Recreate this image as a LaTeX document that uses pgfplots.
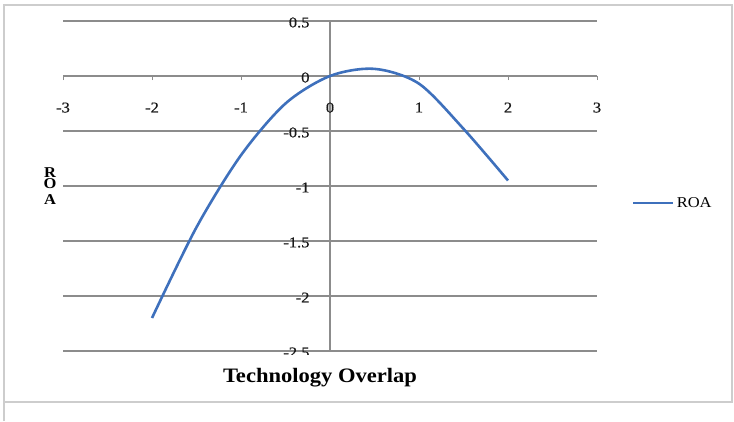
\documentclass[border=0pt]{standalone}
\usepackage{fontspec}
\setmainfont[FakeStretch=1.1]{Liberation Serif}
\newfontfamily\tickfont[FakeStretch=1.1,FakeBold=0.5]{Liberation Serif}
\usepackage{pgfplots}
\pgfplotsset{compat=1.18}
\definecolor{roablue}{RGB}{62,112,188}
\definecolor{gridgray}{RGB}{140,140,140}
\definecolor{framegray}{RGB}{205,205,205}

\begin{document}
\begin{tikzpicture}[x=1pt,y=1pt]
\useasboundingbox (0,0) rectangle (734,421);
% chart area frame
\draw[framegray, line width=1.2pt] (4,19) rectangle (732,416);
\draw[framegray, line width=1.2pt] (4,0) -- (4,19);
\begin{axis}[
  at={(63pt,70pt)}, anchor=south west,
  scale only axis, width=534pt, height=330pt,
  xmin=-3, xmax=3, ymin=-2.5, ymax=0.5,
  axis x line=middle, axis y line=middle,
  axis line style={-, gridgray, line width=1.3pt},
  ymajorgrids, grid style={gridgray, line width=1.3pt},
  xtick={-3,-2,-1,0,1,2,3},
  xticklabels={-3,-2,-1,0,1,2,3},
  ytick={-2.5,-2,-1.5,-1,-0.5,0,0.5},
  yticklabels={-2.5,-2,-1.5,-1,-0.5,0,0.5},
  hide obscured x ticks=false, hide obscured y ticks=false,
  x tick style={gridgray, line width=1pt},
  y tick style={draw=none},
  xtick align=outside, major tick length=4pt,
  ticklabel style={font=\tickfont\fontsize{15}{15}\selectfont, text=black!90},
  xticklabel style={yshift=-19pt},
  yticklabel style={xshift=-15pt, yshift=-1.5pt},
  clip=false,
  legend style={at={(axis description cs:1.0655,0.4485)}, anchor=west,
    draw=none, fill=none, inner sep=0pt,
    font=\fontsize{15}{15}\selectfont, legend cell align=left},
  legend image code/.code={\draw[#1] (0pt,0pt) -- (40pt,0pt);},
]
\addplot[roablue, line width=2.6pt, smooth] coordinates {
  (-2,-2.2) (-1.5,-1.375) (-1,-0.72) (-0.5,-0.25) (0,0)
  (0.5,0.065) (1,-0.07) (1.5,-0.48) (2,-0.95)
};
\addlegendentry{ROA}
\end{axis}
% lower part of the -2.5 label is cut off by the plot area
\fill[white] (266,52) rectangle (322,66);
\node[font=\fontsize{20.5}{20.5}\selectfont\bfseries] at (320,43) {Technology Overlap};
\node[font=\fontsize{15}{15}\selectfont\bfseries] at (50,248) {R};
\node[font=\fontsize{15}{15}\selectfont\bfseries] at (50,237) {O};
\node[font=\fontsize{15}{15}\selectfont\bfseries] at (50,221) {A};
\end{tikzpicture}
\end{document}
